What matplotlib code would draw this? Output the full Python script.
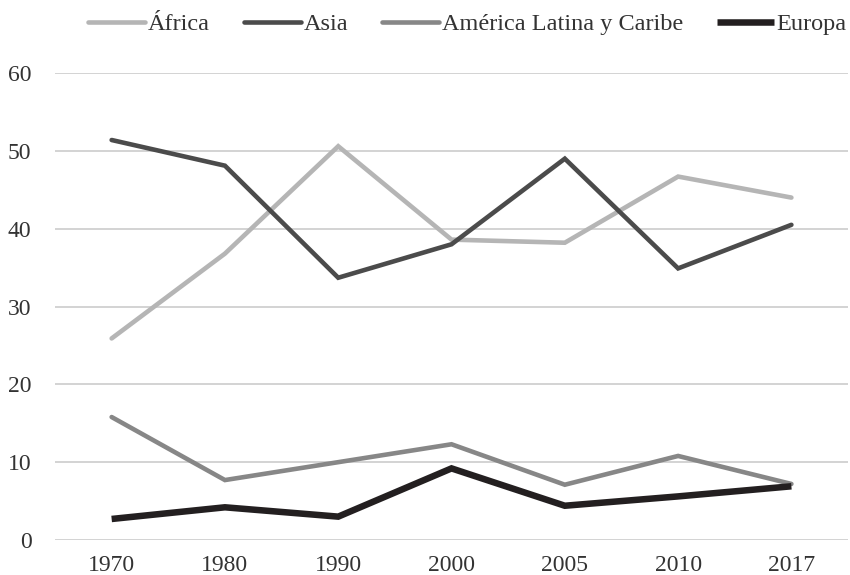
import numpy as np
import matplotlib
matplotlib.use("Agg")
import matplotlib.pyplot as plt

# datos
anios = ['1970', '1980', '1990', '2000', '2005', '2010', '2017']
africa = [25.9, 36.8, 50.6, 38.6, 38.2, 46.7, 44.0]
asia = [51.4, 48.1, 33.7, 38.0, 49.0, 34.9, 40.5]
america_latina = [15.8, 7.7, 10.0, 12.3, 7.1, 10.8, 7.2]
europa = [2.7, 4.2, 3.0, 9.2, 4.4, 5.6, 6.9]

plt.rcParams['font.family'] = ['Liberation Serif', 'DejaVu Serif']
color_texto = '#333333'

fig = plt.figure(figsize=(8.5, 5.75), dpi=100)
ax = fig.add_axes([0.0647, 0.0609, 0.933, 0.812])

x = np.arange(len(anios))
ax.plot(x, africa, color='#b5b5b5', linewidth=3.3, solid_capstyle='round',
        solid_joinstyle='miter', label='África')
ax.plot(x, asia, color='#4b4b4b', linewidth=3.3, solid_capstyle='round',
        solid_joinstyle='miter', label='Asia')
ax.plot(x, america_latina, color='#878787', linewidth=3.3, solid_capstyle='round',
        solid_joinstyle='miter', label='América Latina y Caribe')
ax.plot(x, europa, color='#231f20', linewidth=4.7, solid_capstyle='butt',
        solid_joinstyle='miter', label='Europa')

ax.set_xlim(-0.5, len(anios) - 0.5)
ax.set_ylim(0, 60)
ax.set_yticks(np.arange(0, 61, 10))
ax.set_xticks(x)
ax.set_xticklabels(anios)
ax.yaxis.grid(True, color='#d0d0d0', linewidth=1.3)
ax.set_axisbelow(True)
for s in ax.spines.values():
    s.set_visible(False)
ax.tick_params(axis='both', length=0, labelsize=17, colors=color_texto)
ax.tick_params(axis='y', pad=17)
ax.tick_params(axis='x', pad=11)

fig.legend(loc='center', bbox_to_anchor=(0.55, 0.958), ncol=4, frameon=False,
           fontsize=17.5, handlelength=2.35, handletextpad=0.1, columnspacing=1.4,
           labelcolor=color_texto)

fig.savefig('out.png', dpi=100)
